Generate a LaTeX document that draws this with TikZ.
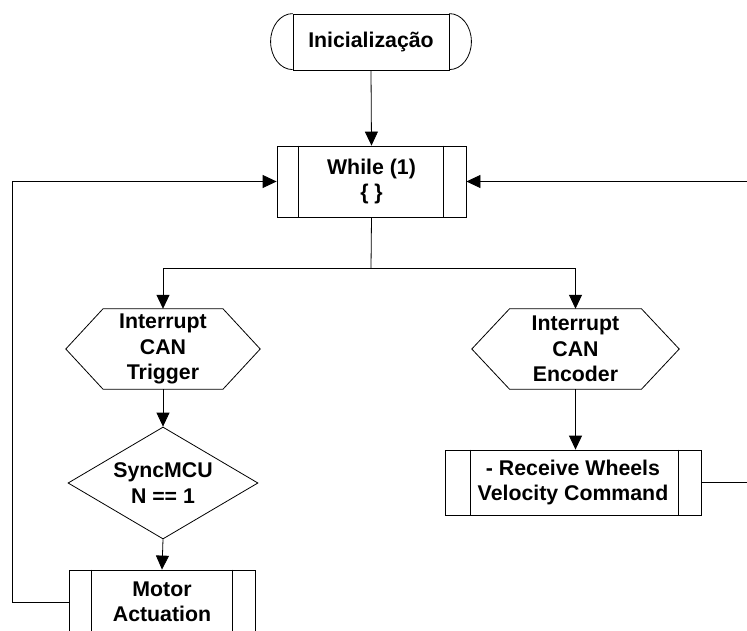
\documentclass[tikz,border=0pt]{standalone}
\usepackage{fontspec}
\setmainfont{Liberation Sans}
\usetikzlibrary{calc,arrows.meta,shapes.geometric}
\begin{document}
\begin{tikzpicture}[x=1pt,y=-1pt,
  every node/.style={font=\fontsize{21.3}{25.5}\selectfont\bfseries, align=center, inner sep=0pt},
  ln/.style={line width=0.8pt, draw=black},
  arr/.style={ln, -{Triangle[length=14pt,width=13pt]}},
  boxn/.style={ln, rectangle},
]
\clip (0,0) rectangle (747,631);
\fill[white] (0,0) rectangle (747,631);
% terminal
\node[boxn, minimum width=156pt, minimum height=56pt] (t) at (371,42) {Inicialização};
\draw[ln] (t.north west) arc[start angle=90, end angle=270, x radius=22pt, y radius=28pt];
\draw[ln] (t.north east) arc[start angle=90, end angle=-90, x radius=22pt, y radius=28pt];
% while
\node[boxn, minimum width=189pt, minimum height=71pt] (w) at (371.5,181.5) {While (1)\\{\{ \}}};
\draw[ln] ($(w.north west)+(22,0)$) -- ($(w.south west)+(22,0)$);
\draw[ln] ($(w.north east)+(-23,0)$) -- ($(w.south east)+(-23,0)$);
% hexagons
\node[minimum width=194pt, minimum height=80pt] (h1) at (163,349) {Interrupt\\CAN\\Trigger};
\draw[ln] (h1.west) -- ($(h1.north)+(-60,0)$) -- ($(h1.north)+(60,0)$) -- (h1.east) -- ($(h1.south)+(60,0)$) -- ($(h1.south)+(-60,0)$) -- cycle;
\node[minimum width=207pt, minimum height=80pt] (h2) at (575.5,349) {Interrupt\\CAN\\Encoder};
\draw[ln] (h2.west) -- ($(h2.north)+(-66,0)$) -- ($(h2.north)+(66,0)$) -- (h2.east) -- ($(h2.south)+(66,0)$) -- ($(h2.south)+(-66,0)$) -- cycle;
% diamond
\node[ln, diamond, aspect=1.7, minimum width=190pt, minimum height=112pt] (d) at (163,483) {SyncMCU\\N == 1};
% receive
\node[boxn, minimum width=256pt, minimum height=65pt] (r) at (573,482.5) {- Receive Wheels\\Velocity Command};
\draw[ln] ($(r.north west)+(26,0)$) -- ($(r.south west)+(26,0)$);
\draw[ln] ($(r.north east)+(-23,0)$) -- ($(r.south east)+(-23,0)$);
% motor
\node[boxn, minimum width=186pt, minimum height=64pt] (m) at (162,602) {Motor\\Actuation};
\draw[ln] ($(m.north west)+(23,0)$) -- ($(m.south west)+(23,0)$);
\draw[ln] ($(m.north east)+(-23,0)$) -- ($(m.south east)+(-23,0)$);
% connectors
\coordinate (sp) at (371,268);
\coordinate (lc) at (12,602);
\coordinate (rc) at (750,482.5);
\draw[arr] (t.south) -- (w.north);
\draw[ln] (w.south) -- (sp);
\draw[arr] (sp) -| (h1.north);
\draw[arr] (sp) -| (h2.north);
\draw[arr] (h1.south) -- (d.north);
\draw[arr] (d.south) -- (m.north);
\draw[arr] (h2.south) -- (r.north -| h2.south);
\draw[arr] (m.west) -- (lc) |- (w.west);
\draw[arr] (r.east) -- (rc) |- (w.east);
\end{tikzpicture}
\end{document}
